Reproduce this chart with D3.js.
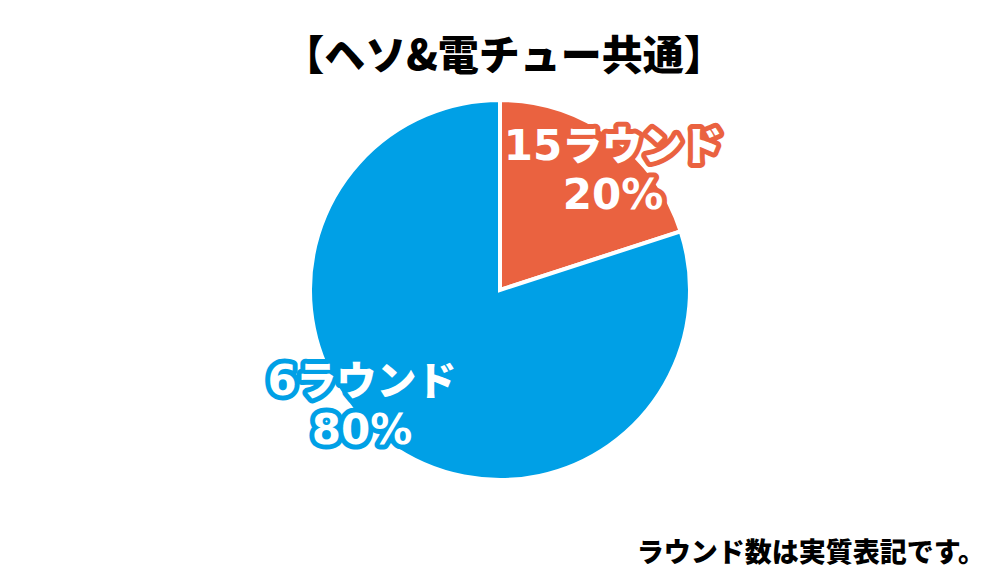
<!DOCTYPE html>
<html><head><meta charset="utf-8">
<script src="https://cdn.jsdelivr.net/npm/d3@7"></script>
<style>body{margin:0;background:#fff}svg{display:block}</style>
</head><body>
<svg id="c" width="1000" height="577"></svg>
<script>
const categories = ["15ラウンド", "6ラウンド"];
const values = [20, 80];
const percentLabels = ["20%", "80%"];
const colors = ["#EA6240", "#00A0E6"];
const title = "【ヘソ&電チュー共通】";
const note = "ラウンド数は実質表記です。";

const svg = d3.select("#c");
const cx = 500, cy = 290, r = 190;
const g = svg.append("g").attr("transform", `translate(${cx},${cy})`);
const pie = d3.pie().sort(null).value(d => d)(values);
const arc = d3.arc().innerRadius(0).outerRadius(r);
g.selectAll("path").data(pie).enter().append("path")
  .attr("d", arc).attr("fill", (d, i) => colors[i])
  .attr("stroke", "#fff").attr("stroke-width", 4).attr("stroke-linejoin", "miter");

const font = "'Noto Sans CJK JP', sans-serif";
const numFont = "'DejaVu Sans', sans-serif";
svg.append("text").attr("x", 504).attr("y", 70).attr("text-anchor", "middle")
  .attr("font-family", font).attr("font-weight", 900).attr("font-size", 41)
  .attr("fill", "#000").text(title);

const labelPos = [
  {x: 613, y1: 160, y2: 209},
  {x: 362, y1: 395, y2: 444}
];
function addLabel(t, x, y, col) {
  const txt = svg.append("text").attr("x", x).attr("y", y).attr("text-anchor", "middle")
    .attr("font-weight", 900).attr("font-size", 42)
    .attr("fill", "#fff").attr("stroke", col).attr("stroke-width", 10)
    .attr("stroke-linejoin", "round").attr("paint-order", "stroke");
  const parts = t.match(/[0-9%]+|[^0-9%]+/g);
  parts.forEach(p => {
    const isNum = /[0-9%]/.test(p);
    txt.append("tspan").attr("font-family", isNum ? numFont : font)
      .attr("font-size", isNum ? 42 : 40)
      .attr("font-weight", isNum ? "bold" : 900).text(p);
  });
}
categories.forEach((c, i) => {
  const p = labelPos[i];
  addLabel(c, p.x, p.y1, colors[i]);
  addLabel(percentLabels[i], p.x, p.y2, colors[i]);
});

svg.append("text").attr("x", 985).attr("y", 562).attr("text-anchor", "end")
  .attr("font-family", font).attr("font-weight", 900).attr("font-size", 27)
  .attr("fill", "#000").text(note);
</script>
</body></html>
